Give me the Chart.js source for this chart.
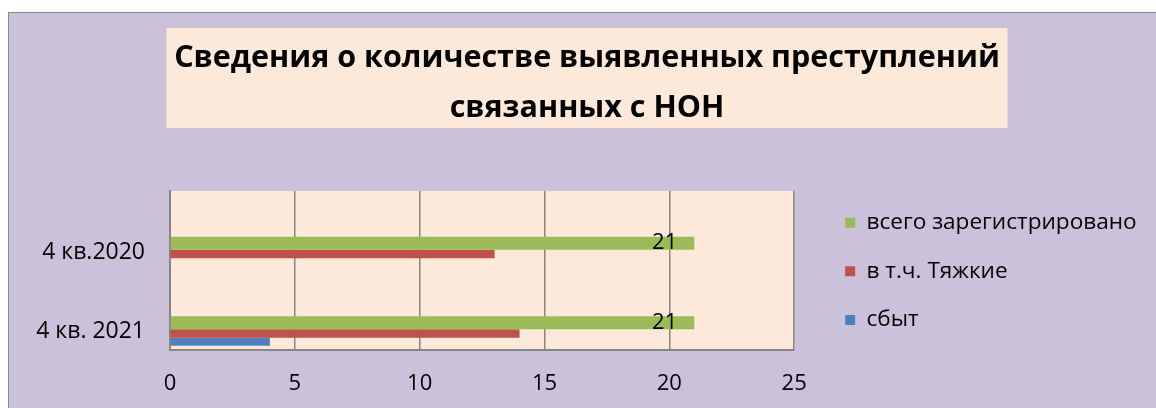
<!DOCTYPE html>
<html><head><meta charset="utf-8">
<script src="https://cdn.jsdelivr.net/npm/chart.js@4.4.1/dist/chart.umd.min.js"></script>
<style>
html,body{margin:0;padding:0;background:#fff;overflow:hidden;width:1156px;height:408px;}
#frame{position:absolute;left:8px;top:12px;width:1160px;height:420px;border-left:1px solid #8a8a8a;border-top:1px solid #8a8a8a;background:#ccc1da;}
canvas{position:absolute;left:0;top:0;}
</style></head><body>
<div id="frame"><canvas id="c" width="1156" height="405"></canvas></div>
<script>
const titleLines = ['Сведения о количестве выявленных преступлений', 'связанных с НОН'];
const categories = ['4 кв.2020', '4 кв. 2021'];
const seriesNames = ['всего зарегистрировано', 'в т.ч. Тяжкие', 'сбыт'];
const totalRegistered = [21, 21];
const graveCrimes = [13, 14];
const sales = [0, 4];
const xTicks = [0, 5, 10, 15, 20, 25];

Chart.defaults.font.family = '"Open Sans", sans-serif';
Chart.defaults.color = '#000';

const backgrounds = {
  id: 'backgrounds',
  beforeDraw(chart) {
    const {ctx, chartArea: a} = chart;
    const t = chart.titleBlock;
    ctx.save();
    ctx.fillStyle = '#fde9d9';
    const cx = (t.left + t.right) / 2;
    ctx.fillRect(cx - 420.5, t.top + 15, 841, 100);
    ctx.fillRect(a.left, a.top, a.right - a.left, a.bottom - a.top);
    ctx.restore();
  }
};

const valueLabels = {
  id: 'valueLabels',
  afterDatasetsDraw(chart) {
    const meta = chart.getDatasetMeta(0);
    const ctx = chart.ctx;
    ctx.save();
    ctx.font = '22px "Open Sans"';
    ctx.fillStyle = '#000';
    ctx.textAlign = 'right';
    ctx.textBaseline = 'middle';
    meta.data.forEach((bar, i) => {
      ctx.fillText(String(chart.data.datasets[0].data[i]), bar.x - 17, bar.y);
    });
    ctx.restore();
  }
};

new Chart(document.getElementById('c'), {
  type: 'bar',
  data: {
    labels: categories,
    datasets: [
      {label: seriesNames[0], data: totalRegistered, backgroundColor: '#9bbb59', categoryPercentage: 0.4094, barPercentage: 1.198},
      {label: seriesNames[1], data: graveCrimes, backgroundColor: '#c0504d', categoryPercentage: 0.4, barPercentage: 0.792},
      {label: seriesNames[2], data: sales, backgroundColor: '#4f81bd', categoryPercentage: 0.3094, barPercentage: 0.9756}
    ]
  },
  options: {
    indexAxis: 'y',
    responsive: false,
    animation: false,
    devicePixelRatio: 1,
    layout: {padding: {left: 18.3, right: 18.3, top: 0, bottom: 0}},
    scales: {
      x: {
        min: xTicks[0], max: xTicks[xTicks.length - 1],
        ticks: {stepSize: xTicks[1] - xTicks[0], padding: 20.8, color: '#000', font: {size: 22}},
        grid: {color: '#868686', lineWidth: 1.5, drawTicks: false},
        border: {color: '#868686', width: 2}
      },
      y: {
        offset: true,
        afterBuildTicks: s => { s._startValue -= 0.2925; },
        afterFit: s => { s.width = 142.7; },
        ticks: {padding: 25, color: '#000', font: {size: 23}, labelOffset: -2},
        grid: {display: false, drawTicks: false},
        border: {color: '#868686', width: 2}
      },
      gap: {
        type: 'linear', position: 'right',
        afterFit: s => { s.width = 25; },
        ticks: {display: false},
        grid: {display: false, drawTicks: false},
        border: {display: false}
      }
    },
    plugins: {
      title: {
        display: true, text: titleLines, color: '#000',
        font: {size: 30.5, weight: 'bold', lineHeight: '50px'},
        padding: {top: 20.5, bottom: 57.5}
      },
      legend: {
        position: 'right', fullSize: true, align: 'start', maxWidth: 500,
        title: {display: true, text: ' ', font: {size: 22}, padding: {top: 146, bottom: 0}},
        labels: {boxWidth: 10, boxHeight: 10, padding: 26, color: '#000', font: {size: 22.6}}
      },
      tooltip: {enabled: false}
    }
  },
  plugins: [backgrounds, valueLabels]
});
</script>
</body></html>
